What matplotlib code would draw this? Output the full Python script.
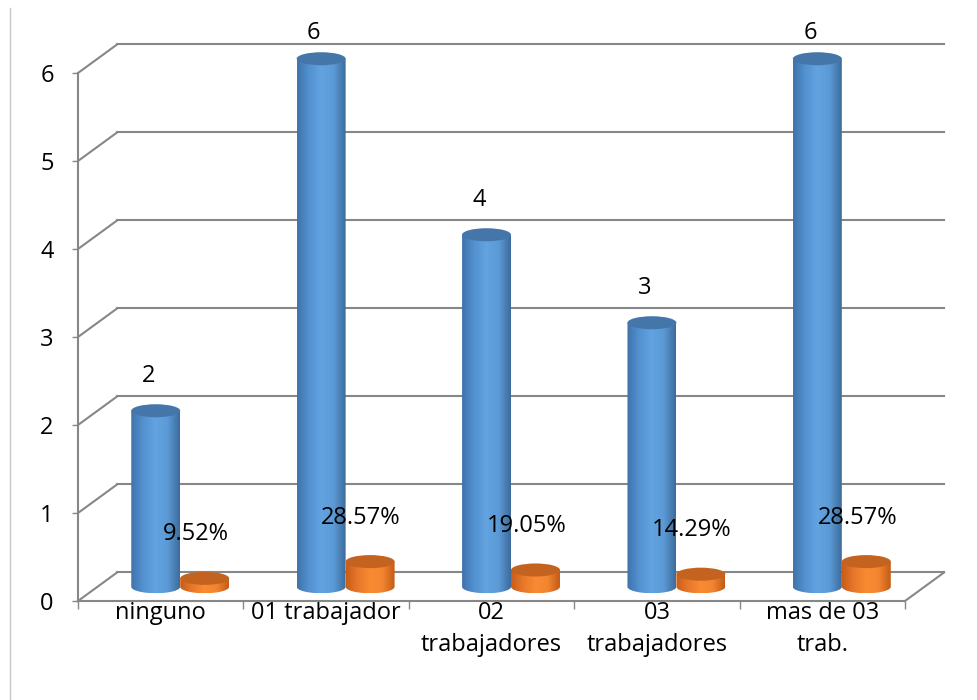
import numpy as np
import matplotlib
matplotlib.use("Agg")
import matplotlib.pyplot as plt
from matplotlib.patches import Ellipse, PathPatch
from matplotlib.path import Path
from matplotlib.colors import LinearSegmentedColormap
from matplotlib.lines import Line2D

# ---------------------------
# Datos
# ---------------------------
categorias = ['ninguno', '01 trabajador', '02\ntrabajadores',
              '03\ntrabajadores', 'mas de 03\ntrab.']
frecuencia = [2, 6, 4, 3, 6]
porcentaje = [0.0952, 0.2857, 0.1905, 0.1429, 0.2857]
etiquetas_pct = ['9.52%', '28.57%', '19.05%', '14.29%', '28.57%']
y_ticks = [0, 1, 2, 3, 4, 5, 6]

# ---------------------------
# Estilo
# ---------------------------
plt.rcParams['font.family'] = ['Open Sans', 'DejaVu Sans']
GRIS = '#878787'
azul_cmap = LinearSegmentedColormap.from_list(
    'azul', ['#3f73ab', '#5391d0', '#62a3e0', '#5b9ad6', '#3d6b9c'])
naranja_cmap = LinearSegmentedColormap.from_list(
    'naranja', ['#c85d18', '#e8782a', '#f98b32', '#f28530', '#c45b17'])
AZUL_TAPA = '#4576aa'
NARANJA_TAPA = '#c4621f'
FS = 17

# profundidad 3D (en unidades de datos)
dx, dy = 0.236, 0.324
prof = 0.5
ancho = 0.296
elip = 0.148

W, H = 978, 700
fig = plt.figure(figsize=(W / 100, H / 100), dpi=100)
ax = fig.add_axes([78 / W, 99 / H, 827 / W, 528 / H])
ax.set_xlim(-0.5, 4.5)
ax.set_ylim(0, 6)


def cilindro(xc, alto, cmap, tapa, z):
    base = prof * dy
    x0, x1 = xc - ancho / 2, xc + ancho / 2
    t = np.linspace(np.pi, 2 * np.pi, 40)
    arco = np.column_stack([xc + ancho / 2 * np.cos(t), base + elip / 2 * np.sin(t)])
    verts = np.vstack([[x0, base + alto], arco, [x1, base + alto], [x0, base + alto]])
    codes = [Path.MOVETO] + [Path.LINETO] * (len(verts) - 2) + [Path.CLOSEPOLY]
    forma = PathPatch(Path(verts, codes), transform=ax.transData)
    grad = np.linspace(0, 1, 256).reshape(1, -1)
    im = ax.imshow(grad, cmap=cmap, aspect='auto', interpolation='bilinear',
                   extent=(x0, x1, base - elip / 2, base + alto), zorder=z)
    im.set_clip_path(forma)
    im.set_clip_box(fig.bbox)
    ax.add_patch(Ellipse((xc, base + alto), ancho, elip, facecolor=tapa,
                         edgecolor='none', zorder=z + 0.1, clip_on=False))


# rejilla con profundidad
for v in y_ticks:
    ax.plot([-0.5 + dx, 4.5 + dx], [v + dy, v + dy], color=GRIS, lw=1.5,
            zorder=1, clip_on=False)
    ax.plot([-0.5, -0.5 + dx], [v, v + dy], color=GRIS, lw=1.5,
            zorder=1, clip_on=False)
ax.plot([4.5, 4.5 + dx], [0, dy], color=GRIS, lw=1.5, zorder=1, clip_on=False)

x = np.arange(len(categorias))
for i in range(len(categorias)):
    xb = x[i] - ancho / 2 + prof * dx
    xn = x[i] + ancho / 2 + prof * dx
    cilindro(xb, frecuencia[i], azul_cmap, AZUL_TAPA, 3 + i * 0.01)
    cilindro(xn, porcentaje[i], naranja_cmap, NARANJA_TAPA, 4 + i * 0.01)
    ax.text(xb - 0.045, min(frecuencia[i] + prof * dy + 0.39, 6.45), str(frecuencia[i]),
            ha='center', va='center', fontsize=FS, zorder=6, clip_on=False)
    ax.text(xn - 0.055, porcentaje[i] + prof * dy + 0.5, etiquetas_pct[i],
            ha='center', va='center', fontsize=FS, zorder=6, clip_on=False)

# ejes
for s in ['top', 'right']:
    ax.spines[s].set_visible(False)
for s in ['left', 'bottom']:
    ax.spines[s].set_color(GRIS)
    ax.spines[s].set_linewidth(1.5)
ax.set_yticks(y_ticks)
ax.tick_params(axis='y', direction='out', length=4.5, width=1, color=GRIS,
               labelsize=FS, pad=13)
ax.set_xticks(x)
ax.set_xticklabels(categorias, fontsize=FS, linespacing=1.45)
ax.set_xticks(np.arange(-0.5, 5, 1), minor=True)
ax.tick_params(axis='x', which='major', length=0, pad=0)
ax.tick_params(axis='x', which='minor', direction='out', length=6, width=1, color=GRIS)
ax.patch.set_alpha(0)

# borde del grafico
fig.add_artist(Line2D([10 / W, 10 / W], [0, 1 - 8 / H], transform=fig.transFigure,
                      color='#c8c8c8', lw=1))

fig.savefig('out.png', dpi=100)
